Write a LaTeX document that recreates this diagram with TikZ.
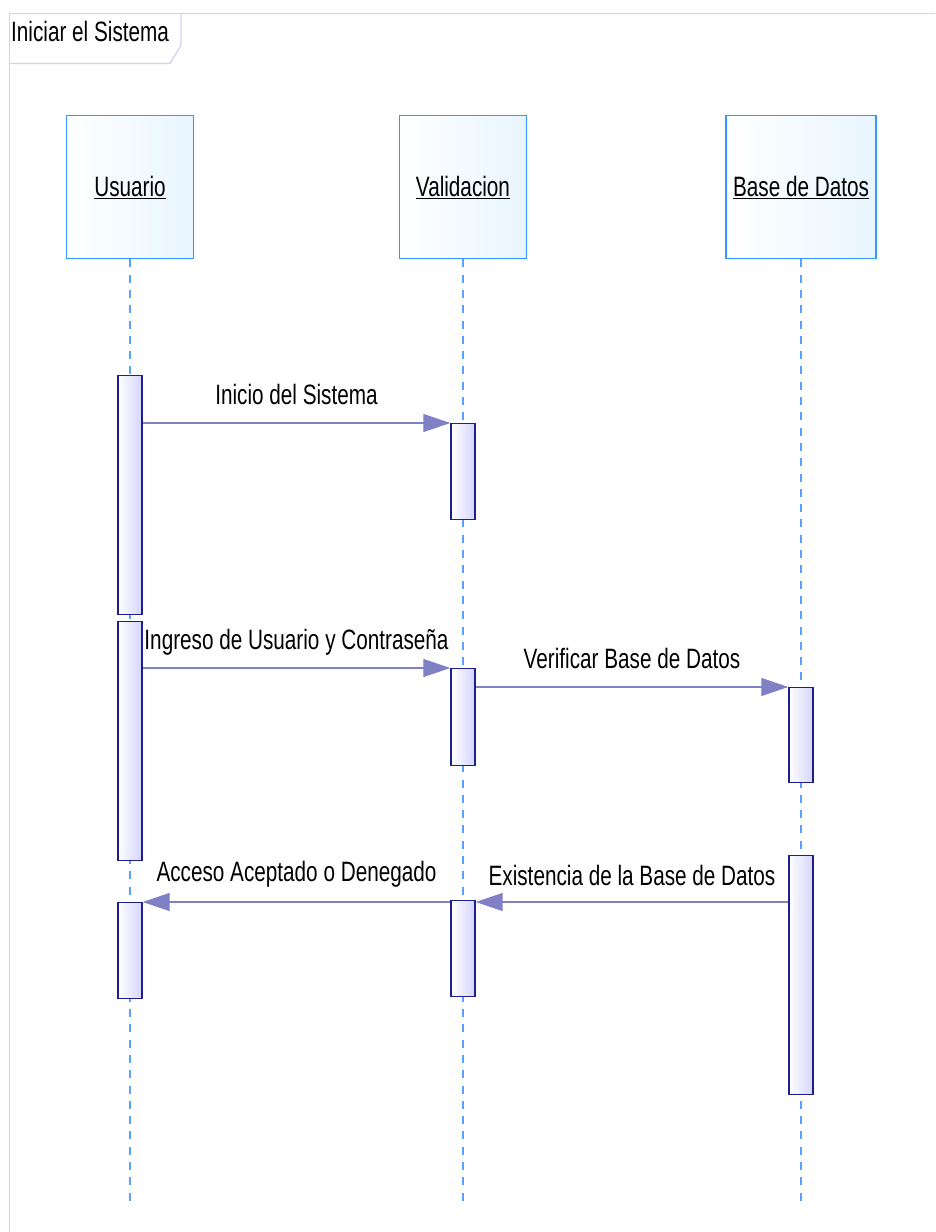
\documentclass[tikz,border=0pt]{standalone}
\usepackage{fontspec}
\setmainfont{Liberation Sans}[FakeStretch=0.74]
\usetikzlibrary{arrows.meta}
\definecolor{framecol}{RGB}{210,210,236}
\definecolor{headcol}{RGB}{51,153,255}
\definecolor{headfill}{RGB}{232,245,255}
\definecolor{linecol}{RGB}{90,160,255}
\definecolor{actcol}{RGB}{30,30,140}
\definecolor{actfill}{RGB}{212,212,255}
\definecolor{msgcol}{RGB}{128,128,196}
\newcommand{\ustrich}[1]{\underline{#1}}
\begin{document}
\begin{tikzpicture}[x=1pt,y=-1pt]
    \tikzset{head/.style={draw=headcol, line width=1.3pt, left color=white, right color=headfill, minimum width=127pt, minimum height=143pt, anchor=north, inner sep=0pt, font=\fontsize{28}{30}\selectfont},
        lifeline/.style={draw=linecol, line width=1.5pt, dash pattern=on 8pt off 7.3pt},
        act/.style={draw=actcol, line width=1.4pt, left color=white, right color=actfill, minimum width=24pt, anchor=north, inner sep=0pt},
        msg/.style={draw=msgcol, line width=1.1pt, -{Triangle[length=27pt,width=18pt]}},
        msglabel/.style={font=\fontsize{28}{30}\selectfont, text=black, text height=20pt, text depth=6pt, inner sep=0pt}}
    \useasboundingbox (0,0) rectangle (935,1232);
    %Rahmen
    \draw[framecol, line width=1.3pt] (9.5,1232) -- (9.5,13.5) -- (935,13.5);
    \draw[framecol, line width=1.3pt] (9.5,63.5) -- (170,63.5) -- (181,45) -- (181,13.5);
    \node[anchor=west, inner sep=0pt, font=\fontsize{28}{30}\selectfont] (titel) at (11,31) {Iniciar el Sistema};

    %Lebenslinien
    \node[head] (usuario) at (130,115) {\ustrich{Usuario}};
    \node[head] (validacion) at (463,115) {\ustrich{Validacion}};
    \node[head, minimum width=150pt] (basedatos) at (801,115) {\ustrich{Base de Datos}};
    \coordinate (uEnde) at (130,1203);
    \coordinate (vEnde) at (463,1203);
    \coordinate (bEnde) at (801,1203);
    \draw[lifeline] (usuario.south) -- (uEnde);
    \draw[lifeline] (validacion.south) -- (vEnde);
    \draw[lifeline] (basedatos.south) -- (bEnde);

    %Aktivierungen
    \node[act, minimum height=239pt] (a1) at (130,375) {};
    \node[act, minimum height=239pt] (a2) at (130,621) {};
    \node[act, minimum height=96pt] (a3) at (130,902) {};
    \node[act, minimum height=96pt] (b1) at (463,423) {};
    \node[act, minimum height=97pt] (b2) at (463,668) {};
    \node[act, minimum height=96pt] (b3) at (463,900) {};
    \node[act, minimum height=95pt] (c1) at (801,687) {};
    \node[act, minimum height=239pt] (c2) at (801,855) {};

    %Nachrichten
    \draw[msg] (a1.east |- b1.north) -- (b1.north west)   node[msglabel, midway, above=12pt] {Inicio del Sistema};
    \draw[msg] (a2.east |- b2.north) -- (b2.north west)   node[msglabel, midway, above=12pt] {Ingreso de Usuario y Contraseña};
    \draw[msg] (b2.east |- c1.north) -- (c1.north west)   node[msglabel, midway, above=12pt] {Verificar Base de Datos};
    \draw[msg] (c2.west |- a3.north) -- (b3.east |- a3.north)   node[msglabel, midway, above=10pt] {Existencia de la Base de Datos};
    \draw[msg] (b3.west |- a3.north) -- (a3.north east)   node[msglabel, midway, above=14pt] {Acceso Aceptado o Denegado};
\end{tikzpicture}
\end{document}
